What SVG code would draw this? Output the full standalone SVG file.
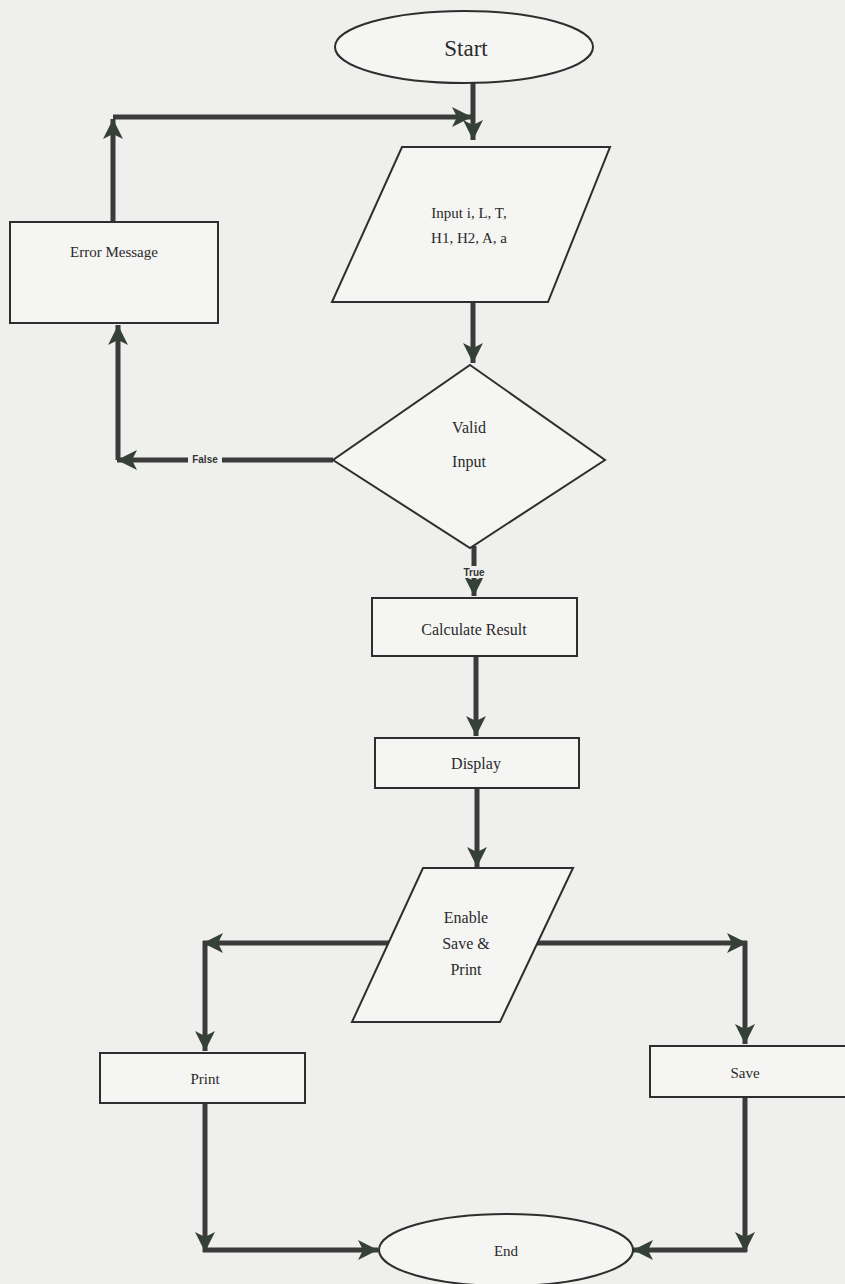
<svg xmlns="http://www.w3.org/2000/svg" width="845" height="1284" viewBox="0 0 845 1284">
<style>
.shape{fill:#f5f5f3;stroke:#2e2e2e;stroke-width:2}
.conn{fill:none;stroke:#3b3b3b;stroke-width:5}
.t{font-family:"Liberation Serif","Times New Roman",serif;fill:#2a2a2a;text-anchor:middle}
.lbl{font-family:"Liberation Sans",Arial,sans-serif;font-size:10px;font-weight:bold;fill:#333;text-anchor:middle}
</style>
<defs>
<marker id="ah" markerUnits="userSpaceOnUse" markerWidth="22" markerHeight="20" viewBox="0 0 22 20" refX="20" refY="10" orient="auto">
<path d="M0,0 L20,10 L0,20 L5,10 z" fill="#354038"/>
</marker>
</defs>
<rect x="0" y="0" width="845" height="1284" fill="#efefed"/>
<g id="connectors">
<path class="conn" d="M473,82 L473,140" marker-end="url(#ah)"/>
<path class="conn" d="M113,222 L113,119" marker-end="url(#ah)"/>
<path class="conn" d="M113,117 L472,117" marker-end="url(#ah)"/>
<path class="conn" d="M473,302 L473,363" marker-end="url(#ah)"/>
<path class="conn" d="M333,460 L117,460" marker-end="url(#ah)"/>
<path class="conn" d="M118,460 L118,325" marker-end="url(#ah)"/>
<path class="conn" d="M474,546 L474,596" marker-end="url(#ah)"/>
<path class="conn" d="M476,656 L476,736" marker-end="url(#ah)"/>
<path class="conn" d="M477,788 L477,867" marker-end="url(#ah)"/>
<path class="conn" d="M390,943 L203,943" marker-end="url(#ah)"/>
<path class="conn" d="M205,941 L205,1051" marker-end="url(#ah)"/>
<path class="conn" d="M537,943 L747,943" marker-end="url(#ah)"/>
<path class="conn" d="M745,941 L745,1044" marker-end="url(#ah)"/>
<path class="conn" d="M205,1103 L205,1252" marker-end="url(#ah)"/>
<path class="conn" d="M203,1250 L378,1250" marker-end="url(#ah)"/>
<path class="conn" d="M745,1097 L745,1252" marker-end="url(#ah)"/>
<path class="conn" d="M747,1250 L633,1250" marker-end="url(#ah)"/>
<rect x="188" y="453" width="34" height="12" fill="#efefed"/>
<text class="lbl" x="205" y="463">False</text>
<rect x="460" y="566" width="28" height="12" fill="#efefed"/>
<text class="lbl" x="474" y="576">True</text>
</g>
<g id="start">
<ellipse class="shape" cx="464" cy="47" rx="129" ry="36"/>
<text class="t" x="466" y="56" font-size="23">Start</text>
</g>
<g id="input">
<polygon class="shape" points="402,147 610,147 548,302 332,302"/>
<text class="t" x="469" y="218" font-size="15">Input i, L, T,</text>
<text class="t" x="469" y="243" font-size="15">H1, H2, A, a</text>
</g>
<g id="error">
<rect class="shape" x="10" y="222" width="208" height="101"/>
<text class="t" x="114" y="257" font-size="15">Error Message</text>
</g>
<g id="valid">
<polygon class="shape" points="470,365 605,460 470,548 333,460"/>
<text class="t" x="469" y="433" font-size="16">Valid</text>
<text class="t" x="469" y="467" font-size="16">Input</text>
</g>
<g id="calc">
<rect class="shape" x="372" y="598" width="205" height="58"/>
<text class="t" x="474" y="635" font-size="16">Calculate Result</text>
</g>
<g id="display">
<rect class="shape" x="375" y="738" width="204" height="50"/>
<text class="t" x="476" y="769" font-size="16">Display</text>
</g>
<g id="enable">
<polygon class="shape" points="423,868 573,868 500,1022 352,1022"/>
<text class="t" x="466" y="923" font-size="16">Enable</text>
<text class="t" x="466" y="949" font-size="16">Save &amp;</text>
<text class="t" x="466" y="975" font-size="16">Print</text>
</g>
<g id="print">
<rect class="shape" x="100" y="1053" width="205" height="50"/>
<text class="t" x="205" y="1084" font-size="15">Print</text>
</g>
<g id="save">
<rect class="shape" x="650" y="1046" width="200" height="51"/>
<text class="t" x="745" y="1078" font-size="15">Save</text>
</g>
<g id="end">
<ellipse class="shape" cx="506" cy="1250" rx="127" ry="36"/>
<text class="t" x="506" y="1256" font-size="15">End</text>
</g>
</svg>
